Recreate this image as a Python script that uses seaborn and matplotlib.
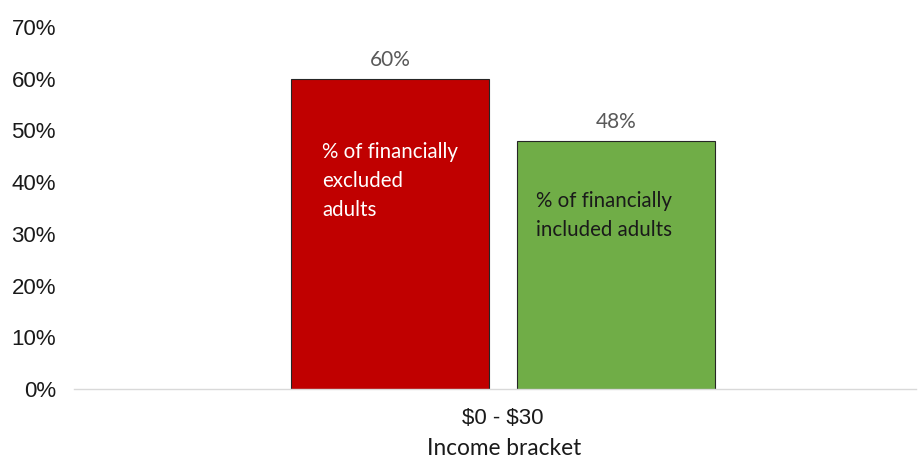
import matplotlib
matplotlib.use("Agg")
import matplotlib.pyplot as plt
import seaborn as sns
import pandas as pd
from matplotlib.ticker import FuncFormatter

# Chart data
brackets = ["$0 - $30"]
groups = ["% of financially\nexcluded\nadults", "% of financially\nincluded adults"]
shares = [60, 48]
colors = ["#C00000", "#70AD47"]
text_colors = ["white", "#1a1a1a"]
yticks = [0, 10, 20, 30, 40, 50, 60, 70]

df = pd.DataFrame({
    "bracket": brackets * len(groups),
    "group": groups,
    "share": shares,
})

sns.set_theme(style="white")
plt.rcParams["font.family"] = ["Liberation Sans", "DejaVu Sans"]

fig = plt.figure(figsize=(9.2, 4.58), dpi=100)
ax = fig.add_axes([0.0804, 0.1507, 0.9153, 0.7904])

sns.barplot(data=df, x="bracket", y="share", hue="group", hue_order=groups,
            palette=colors, width=0.8, gap=0.124, dodge=True, legend=False,
            edgecolor="#262626", linewidth=0.8, saturation=1, ax=ax)

ax.set_ylim(0, 70)
ax.set_xlim(-0.759, 0.731)
ax.set_yticks(yticks)
ax.yaxis.set_major_formatter(FuncFormatter(lambda v, _: f"{v:.0f}%"))
ax.set_xticks(range(len(brackets)))
ax.set_xticklabels([b.replace("$", r"\$") for b in brackets])
ax.tick_params(axis="y", length=0, pad=13, labelsize=16, labelcolor="#1a1a1a")
ax.tick_params(axis="x", length=0, pad=14, labelsize=16, labelcolor="#1a1a1a")
ax.set_ylabel("")
ax.set_xlabel("Income bracket", fontsize=16.3, family=["Lato", "DejaVu Sans"],
              color="#1a1a1a", labelpad=6)
ax.xaxis.label.set_x(0.511)

for side in ["left", "right", "top"]:
    ax.spines[side].set_visible(False)
ax.spines["bottom"].set_color("#d9d9d9")
ax.spines["bottom"].set_linewidth(1.0)
ax.grid(False)

bars = sorted(ax.patches, key=lambda p: p.get_x())
bars = [b for b in bars if b.get_height() > 0]
text_offsets = [0.055, 0.034]
text_heights = [40.2, 33.6]
for bar, val, label, tc, dx, ty in zip(bars, shares, groups, text_colors,
                                        text_offsets, text_heights):
    cx = bar.get_x() + bar.get_width() / 2
    ax.text(cx, val + 3.6, f"{val}%", ha="center", va="center",
            fontsize=15, color="#595959", family=["Lato", "DejaVu Sans"])
    ax.text(bar.get_x() + dx, ty, label, ha="left", va="center",
            fontsize=14.8, color=tc, family=["Lato", "DejaVu Sans"],
            linespacing=1.55)

fig.savefig("out.png", dpi=100)
